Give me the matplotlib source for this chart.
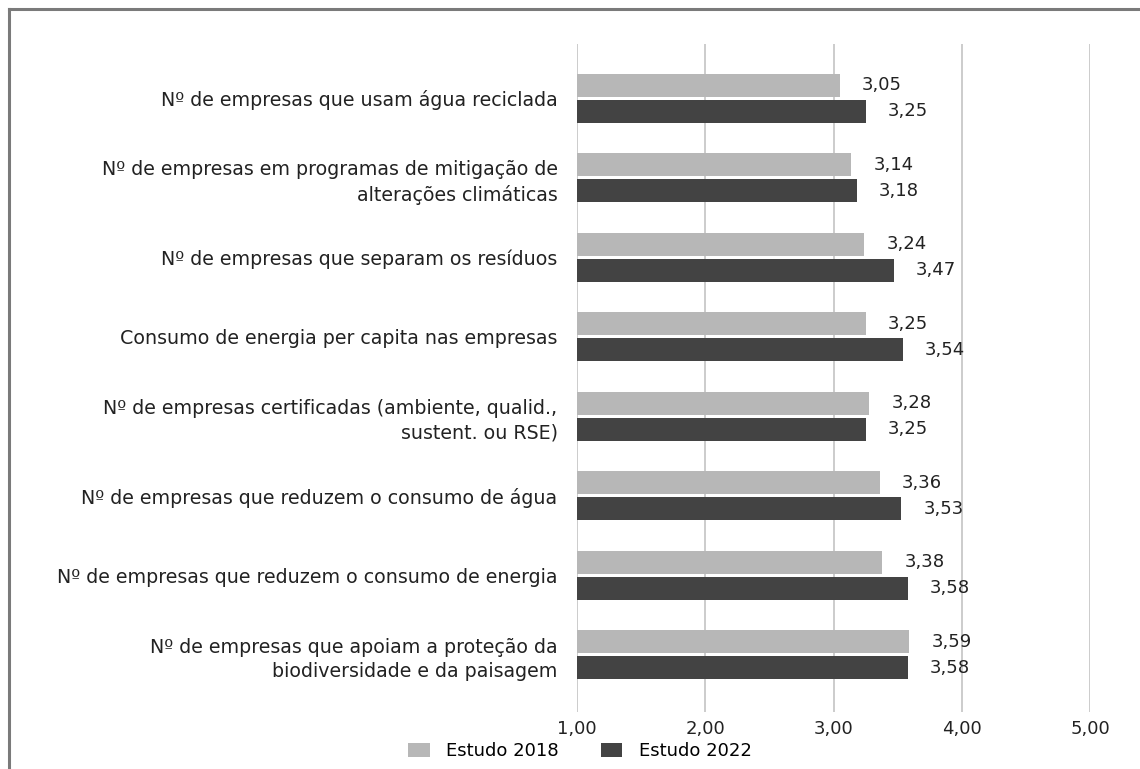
import matplotlib
matplotlib.use("Agg")
import matplotlib.pyplot as plt
from matplotlib.lines import Line2D
from matplotlib.patches import Patch

categories = [
    "Nº de empresas que usam água reciclada",
    "Nº de empresas em programas de mitigação de\nalterações climáticas",
    "Nº de empresas que separam os resíduos",
    "Consumo de energia per capita nas empresas",
    "Nº de empresas certificadas (ambiente, qualid.,\nsustent. ou RSE)",
    "Nº de empresas que reduzem o consumo de água",
    "Nº de empresas que reduzem o consumo de energia",
    "Nº de empresas que apoiam a proteção da\nbiodiversidade e da paisagem",
]
estudo_2018 = [3.05, 3.14, 3.24, 3.25, 3.28, 3.36, 3.38, 3.59]
estudo_2022 = [3.25, 3.18, 3.47, 3.54, 3.25, 3.53, 3.58, 3.58]
series_names = ["Estudo 2018", "Estudo 2022"]
x_ticks = [1, 2, 3, 4, 5]
x_ticklabels = ["1,00", "2,00", "3,00", "4,00", "5,00"]

color_2018 = "#b7b7b7"
color_2022 = "#434343"
text_color = "#222222"
font = "DejaVu Sans"
fs = 13
fs_cat = 13.7

W, H = 1140, 769
fig = plt.figure(figsize=(W / 100, H / 100), dpi=100)
ax = fig.add_axes([577 / W, 1 - 712 / H, (1090 - 577) / W, (712 - 44) / H])

base = 1.0
bar_h = 0.29
off = 0.163
for i, (a, b) in enumerate(zip(estudo_2018, estudo_2022)):
    ax.barh(i - off, a - base, left=base, height=bar_h, color=color_2018, zorder=3)
    ax.barh(i + off, b - base, left=base, height=bar_h, color=color_2022, zorder=3)
    for v, y in ((a, i - off), (b, i + off)):
        ax.annotate(f"{v:.2f}".replace(".", ","), xy=(v, y), xytext=(16, 0),
                    textcoords="offset points", ha="left", va="center",
                    fontsize=fs, family=font, color=text_color)

ax.set_xlim(1, 5)
ax.set_ylim(7.72, -0.685)
ax.set_xticks(x_ticks)
ax.set_xticklabels(x_ticklabels, family=font, fontsize=fs, color=text_color)
ax.set_yticks(range(len(categories)))
ax.set_yticklabels(categories, family=font, fontsize=fs_cat, color=text_color,
                   linespacing=1.32)
ax.tick_params(axis="both", length=0)
ax.tick_params(axis="y", pad=14)
ax.tick_params(axis="x", pad=6)
ax.grid(axis="x", color="#cccccc", linewidth=1.4, zorder=0)
for s in ax.spines.values():
    s.set_visible(False)

handles = [Patch(facecolor=color_2018, edgecolor="none"),
           Patch(facecolor=color_2022, edgecolor="none")]
fig.legend(handles, series_names, loc="center", bbox_to_anchor=(580 / W, 1 - 751 / H),
           ncol=2, frameon=False, handlelength=1.17, handleheight=0.83,
           handletextpad=0.94, columnspacing=2.3, borderaxespad=0, borderpad=0,
           prop={"family": font, "size": fs})

# outer frame (top and left edges)
fig.add_artist(Line2D([9 / W, 1.0], [1 - 9 / H, 1 - 9 / H], transform=fig.transFigure,
                      color="#7a7a7a", linewidth=2.2))
fig.add_artist(Line2D([9 / W, 9 / W], [1 - 9 / H, 0.0], transform=fig.transFigure,
                      color="#7a7a7a", linewidth=2.2))

fig.savefig("out.png", dpi=100, facecolor="white")
